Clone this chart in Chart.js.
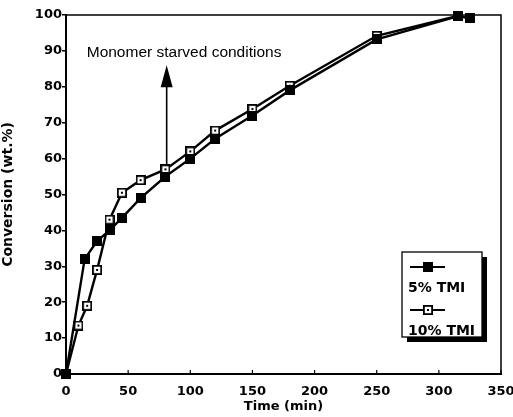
<!DOCTYPE html>
<html>
<head>
<meta charset="utf-8">
<script src="https://cdn.jsdelivr.net/npm/chart.js@4.4.0/dist/chart.umd.min.js"></script>
<style>
  html, body { margin: 0; padding: 0; background: #fff; }
  #wrap { width: 513px; height: 417px; }
</style>
</head>
<body>
<div id="wrap"><canvas id="chart" width="513" height="417"></canvas></div>
<script>
// data
const time5 = [0, 15, 25, 35, 45, 60, 80, 100, 120, 150, 180, 250, 315, 325];
const conv5 = [0, 32, 37, 40, 43.5, 49, 55, 60, 65.5, 72, 79, 93.2, 99.6, 99.2];
const time10 = [0, 10, 17, 25, 35, 45, 60, 80, 100, 120, 150, 180, 250, 315, 325];
const conv10 = [0, 13.5, 19, 29, 43, 50.5, 54, 57, 62, 67.8, 73.8, 80.3, 94.2, 99.7, 99.2];
const seriesLabels = ['5% TMI', '10% TMI'];
const xTicks = [0, 50, 100, 150, 200, 250, 300, 350];
const yTicks = [0, 10, 20, 30, 40, 50, 60, 70, 80, 90, 100];
const noteText = 'Monomer starved conditions';
const noteArrow = { x: 81, from: 58, to: 86 };
const notePos = { x: 95, y: 89.6 };

const FONT = '"DejaVu Sans", sans-serif';

// marker images
function makeMarker(filled) {
    const c = document.createElement('canvas');
    c.width = 10; c.height = 10;
    const g = c.getContext('2d');
    if (filled) {
        g.fillStyle = '#000';
        g.fillRect(0, 0, 10, 10);
    } else {
        g.fillStyle = '#fff';
        g.fillRect(0, 0, 10, 10);
        g.strokeStyle = '#000';
        g.lineWidth = 1.8;
        g.strokeRect(0.9, 0.9, 8.2, 8.2);
        g.fillStyle = '#000';
        g.fillRect(4, 4, 2, 2);
    }
    return c;
}
const markFilled = makeMarker(true);
const markOpen = makeMarker(false);

// frame, inward x ticks, arrow note and legend box
const decorPlugin = {
    id: 'decor',
    afterDraw(chart) {
        const ctx = chart.ctx;
        const a = chart.chartArea;
        const xs = chart.scales.x, ys = chart.scales.y;
        ctx.save();
        ctx.strokeStyle = '#000';
        ctx.lineWidth = 1.5;
        ctx.beginPath();
        ctx.moveTo(a.left, a.top);
        ctx.lineTo(a.right, a.top);
        ctx.lineTo(a.right, a.bottom);
        ctx.stroke();

        // x ticks pointing into the plot
        ctx.lineWidth = 1.2;
        xTicks.forEach(v => {
            const px = xs.getPixelForValue(v);
            ctx.beginPath();
            ctx.moveTo(px, a.bottom);
            ctx.lineTo(px, a.bottom - 4);
            ctx.stroke();
        });

        // arrow
        const ax = xs.getPixelForValue(noteArrow.x);
        const y0 = ys.getPixelForValue(noteArrow.from);
        const y1 = ys.getPixelForValue(noteArrow.to);
        ctx.lineWidth = 1.6;
        ctx.beginPath();
        ctx.moveTo(ax, y0);
        ctx.lineTo(ax, y1 + 20);
        ctx.stroke();
        ctx.fillStyle = '#000';
        ctx.beginPath();
        ctx.moveTo(ax, y1);
        ctx.lineTo(ax - 6, y1 + 22);
        ctx.lineTo(ax + 6, y1 + 22);
        ctx.closePath();
        ctx.fill();

        ctx.font = '15.5px "Liberation Sans", Arial, sans-serif';
        ctx.textAlign = 'center';
        ctx.textBaseline = 'middle';
        ctx.fillText(noteText, xs.getPixelForValue(notePos.x), ys.getPixelForValue(notePos.y));

        // legend box with shadow
        const bx = a.right - 99, by = a.bottom - 122, bw = 80, bh = 85;
        ctx.fillStyle = '#000';
        ctx.fillRect(bx + 5, by + 5, bw, bh);
        ctx.fillStyle = '#fff';
        ctx.fillRect(bx, by, bw, bh);
        ctx.strokeStyle = '#000';
        ctx.lineWidth = 1.3;
        ctx.strokeRect(bx, by, bw, bh);

        const marks = [markFilled, markOpen];
        ctx.font = 'bold 14px ' + FONT;
        ctx.textAlign = 'left';
        ctx.textBaseline = 'middle';
        seriesLabels.forEach((lab, i) => {
            const ly = by + 15 + i * 43;
            ctx.lineWidth = 2.2;
            ctx.beginPath();
            ctx.moveTo(bx + 8, ly);
            ctx.lineTo(bx + 43, ly);
            ctx.stroke();
            ctx.drawImage(marks[i], bx + 21, ly - 5);
            ctx.fillStyle = '#000';
            ctx.fillText(lab, bx + 6, ly + 21);
        });
        ctx.restore();
    }
};

const ctx = document.getElementById('chart').getContext('2d');
const chart = new Chart(ctx, {
    type: 'line',
    data: {
        datasets: [
            {
                label: seriesLabels[0],
                data: time5.map((t, i) => ({ x: t, y: conv5[i] })),
                borderColor: '#000',
                borderWidth: 2.4,
                pointStyle: markFilled,
                fill: false,
                tension: 0
            },
            {
                label: seriesLabels[1],
                data: time10.map((t, i) => ({ x: t, y: conv10[i] })),
                borderColor: '#000',
                borderWidth: 2.4,
                pointStyle: markOpen,
                fill: false,
                tension: 0
            }
        ]
    },
    options: {
        responsive: false,
        animation: false,
        clip: false,
        layout: { padding: { left: 0, top: 15, right: 12, bottom: 0 } },
        plugins: {
            legend: { display: false },
            tooltip: { enabled: false }
        },
        scales: {
            x: {
                type: 'linear',
                min: 0,
                max: 350,
                afterBuildTicks: s => { s.ticks = xTicks.map(v => ({ value: v })); },
                afterFit: s => { s.height = 43; s.paddingLeft = 0; s.paddingRight = 0; },
                grid: { display: false },
                border: { display: true, color: '#000', width: 2 },
                ticks: {
                    color: '#000',
                    padding: 2,
                    maxRotation: 0,
                    font: { family: FONT, weight: 'bold', size: 13 }
                },
                title: {
                    display: true,
                    text: 'Time (min)',
                    color: '#000',
                    padding: { top: 0, bottom: 3 },
                    font: { family: FONT, weight: 'bold', size: 13 }
                }
            },
            y: {
                type: 'linear',
                min: 0,
                max: 100,
                afterBuildTicks: s => { s.ticks = yTicks.map(v => ({ value: v })); },
                afterFit: s => { s.width = 66; },
                grid: {
                    display: true,
                    drawOnChartArea: false,
                    drawTicks: true,
                    tickLength: 4,
                    color: '#000',
                    lineWidth: 1.5
                },
                border: { display: true, color: '#000', width: 2 },
                ticks: {
                    color: '#000',
                    padding: 0,
                    font: { family: FONT, weight: 'bold', size: 13 }
                },
                title: {
                    display: true,
                    text: 'Conversion (wt.%)',
                    color: '#000',
                    padding: { top: 0, bottom: 4 },
                    font: { family: FONT, weight: 'bold', size: 14 }
                }
            }
        }
    },
    plugins: [decorPlugin]
});
</script>
</body>
</html>
